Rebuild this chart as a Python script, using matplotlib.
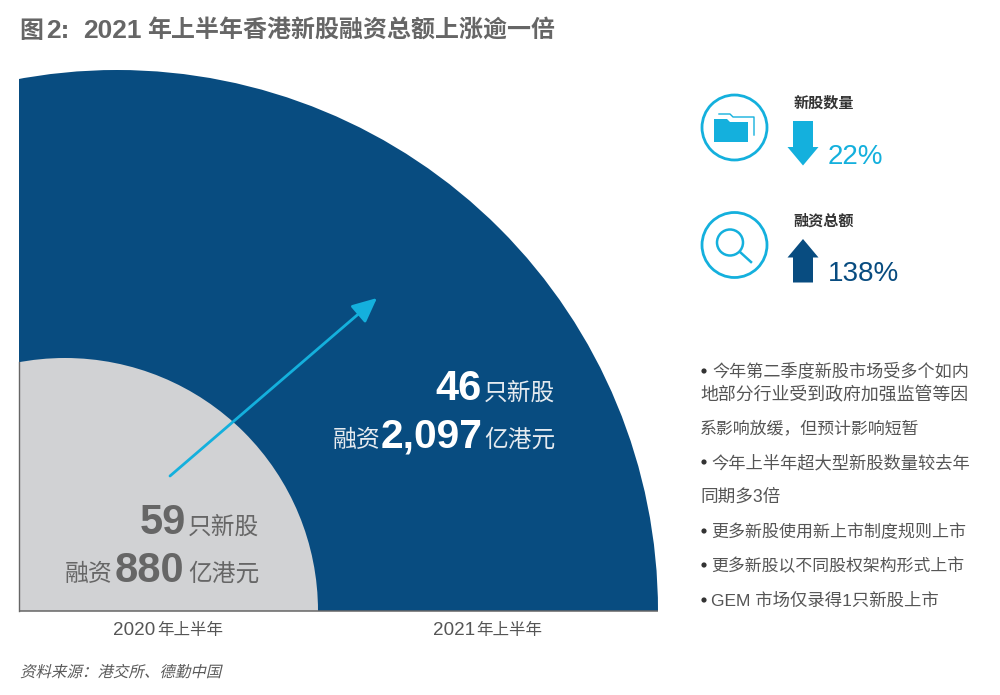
import matplotlib
matplotlib.use("Agg")
import matplotlib.pyplot as plt
from matplotlib.patches import Circle, Rectangle, Polygon, FancyArrowPatch
from matplotlib.patheffects import AbstractPathEffect
from matplotlib.transforms import Affine2D

plt.rcParams['font.family'] = ['Liberation Sans', 'Noto Sans CJK SC', 'DejaVu Sans']

title_parts = ["图", "2:", "2021", "年上半年香港新股融资总额上涨逾一倍"]
period_years = ["2020", "2021"]
period_suffix = "年上半年"
ipo_counts = ["59", "46"]
ipo_amounts = ["880", "2,097"]
arc_radius = [253, 541]
arc_center_x = [65, 117]
change_labels = ["新股数量", "融资总额"]
change_values = ["22%", "138%"]
bullet_lines = ["今年第二季度新股市场受多个如内", "地部分行业受到政府加强监管等因",
                "系影响放缓，但预计影响短暂", "今年上半年超大型新股数量较去年",
                "同期多3倍", "更多新股使用新上市制度规则上市",
                "更多新股以不同股权架构形式上市", "GEM 市场仅录得1只新股上市"]
has_bullet = [True, False, False, True, False, True, True, True]
source = "资料来源：港交所、德勤中国"

NAVY, GREY, CYAN = "#084c80", "#d1d2d4", "#14b0dd"
TXT, GT = "#555555", "#666666"

# layout of the text column
line_baselines = [377, 400, 434, 468, 502, 537, 571, 606]
line_starts = [712, 700, 700, 711, 700, 711, 711, 711]
line_sizes = [12.3, 12.9, 12.2, 12.45, 12.7, 12.24, 12.15, 12.5]

fig = plt.figure(figsize=(10, 6.95), dpi=100)
ax = fig.add_axes([0, 0, 1, 1])
ax.set_xlim(0, 1000)
ax.set_ylim(695, 0)
ax.axis("off")

BASE, LEFT = 611, 19


class Slant(AbstractPathEffect):
    def draw_path(self, renderer, gc, tpath, affine, rgbFace=None):
        renderer.draw_path(gc, tpath, Affine2D().skew_deg(13, 0) + affine, rgbFace)


def t(x, y, s, size, color=TXT, ha="left", weight="normal"):
    return ax.text(x, y, s, fontsize=size, color=color, ha=ha, va="baseline", fontweight=weight)


t(19, 38, title_parts[0], 17.2, GT, weight="bold")
t(46, 38, title_parts[1], 19, GT, weight="bold")
t(83, 38, title_parts[2], 19, GT, weight="bold")
t(147, 38, title_parts[3], 17.25, GT, weight="bold")

# quarter arcs
clip = Rectangle((LEFT, 0), 660, BASE, transform=ax.transData)
for r, cx, col in zip(arc_radius[::-1], arc_center_x[::-1], [NAVY, GREY]):
    c = Circle((cx, BASE), r, fc=col, ec="none")
    ax.add_patch(c)
    c.set_clip_path(clip)
ax.plot([LEFT, 658], [BASE, BASE], color="#666666", lw=1.1, solid_capstyle="butt")
ax.plot([LEFT, LEFT], [BASE, 362], color="#666666", lw=1.0)
ax.add_patch(FancyArrowPatch((170, 476), (377, 298), arrowstyle="-|>,head_length=1.25,head_width=0.58",
                             mutation_scale=12, color=CYAN, lw=2.0, shrinkA=0, shrinkB=0))

# big labels
t(186, 534, ipo_counts[0], 30, GT, "right", "bold")
t(259.5, 534, "只新股", 17.1, GT, "right")
t(113, 581, "融资", 17.2, GT, "right")
t(184, 582, ipo_amounts[0], 30, GT, "right", "bold")
t(259.5, 581, "亿港元", 17.1, GT, "right")
t(482, 400, ipo_counts[1], 30, "white", "right", "bold")
t(555.5, 400, "只新股", 17.1, "#e6ebf0", "right")
t(381, 447, "融资", 17.2, "#e6ebf0", "right")
t(483, 447, ipo_amounts[1], 29.3, "white", "right", "bold")
t(555.5, 447, "亿港元", 17.1, "#e6ebf0", "right")

# category labels
t(112.5, 635, period_years[0], 13.6, TXT)
t(157, 635, period_suffix, 11.9, TXT)
t(432.5, 635, period_years[1], 13.6, TXT)
t(476.5, 635, period_suffix, 11.9, TXT)
src = t(20, 677, source, 11.15, "#5a5a5a")
src.set_path_effects([Slant()])

# icons
for cy in (127.5, 245):
    ax.add_patch(Circle((734.5, cy), 32.5, fc="none", ec=CYAN, lw=2))
ax.add_patch(Polygon([(714, 142), (714, 119), (727, 119), (730, 122), (748, 122), (748, 142)], fc=CYAN, ec="none"))
ax.plot([719, 730, 733, 754, 754], [114, 114, 117, 117, 135], color=CYAN, lw=1.0)
ax.add_patch(Circle((730, 242.5), 13, fc="none", ec=CYAN, lw=1.8))
ax.plot([740, 751], [252, 262], color=CYAN, lw=1.8)
ax.add_patch(Polygon([(793, 121), (813, 121), (813, 147), (818.5, 147), (803, 165.5), (787.5, 147), (793, 147)], fc=CYAN, ec="none"))
ax.add_patch(Polygon([(793, 282.5), (813, 282.5), (813, 257.5), (818.5, 257.5), (803, 239), (787.5, 257.5), (793, 257.5)], fc=NAVY, ec="none"))

t(794, 108, change_labels[0], 10.9, "#333333", weight="bold")
t(793.5, 226, change_labels[1], 10.9, "#333333", weight="bold")
t(828, 164, change_values[0], 20, CYAN)
t(827.5, 281, change_values[1], 20, NAVY)

for s, flag, y, x0, fs in zip(bullet_lines, has_bullet, line_baselines, line_starts, line_sizes):
    t(x0, y, s, fs, TXT)
    if flag:
        ax.add_patch(Circle((704, y - 6), 2.6, fc="#333333", ec="none"))

fig.savefig("out.png", dpi=100)
